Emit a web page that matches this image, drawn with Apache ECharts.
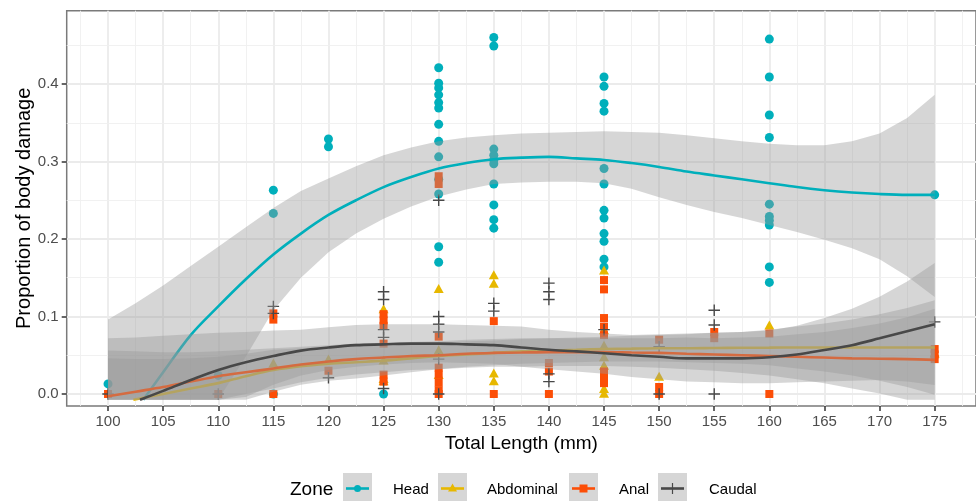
<!DOCTYPE html>
<html><head><meta charset="utf-8">
<script src="https://cdn.jsdelivr.net/npm/echarts@6/dist/echarts.min.js"></script>
<style>html,body{margin:0;padding:0;background:#fff}#c{width:976px;height:501px}</style>
</head><body><div id="c"></div>
<script>
// ---------- tick labels ----------
const xTicks = [100,105,110,115,120,125,130,135,140,145,150,155,160,165,170,175];
const xMinor = [97.5,102.5,107.5,112.5,117.5,122.5,127.5,132.5,137.5,142.5,147.5,152.5,157.5,162.5,167.5,172.5,177.5];
const yTicks = [0,0.1,0.2,0.3,0.4];
const yMinor = [0.05,0.15,0.25,0.35,0.45];
const zones = ['Head','Abdominal','Anal','Caudal'];

// ---------- observed points [length, proportion] ----------
const headPts = [[100,0.013],[110,0.024],[115,0.263],[115,0.233],[115,0.0],[120,0.329],[120,0.319],[125,0.0],
 [130,0.421],[130,0.401],[130,0.395],[130,0.386],[130,0.376],[130,0.369],[130,0.348],[130,0.326],[130,0.306],[130,0.277],[130,0.258],[130,0.190],[130,0.170],
 [135,0.460],[135,0.449],[135,0.316],[135,0.308],[135,0.302],[135,0.297],[135,0.271],[135,0.244],[135,0.225],[135,0.214],
 [145,0.409],[145,0.397],[145,0.375],[145,0.365],[145,0.291],[145,0.271],[145,0.237],[145,0.227],[145,0.207],[145,0.197],[145,0.174],[145,0.164],
 [160,0.458],[160,0.409],[160,0.360],[160,0.331],[160,0.245],[160,0.229],[160,0.224],[160,0.218],[160,0.164],[160,0.144],
 [175,0.257]];
const abdPts = [[115,0.040],[120,0.045],[125,0.110],[125,0.044],[125,0.020],[125,0.017],[130,0.136],[130,0.057],[130,0.025],
 [135,0.154],[135,0.143],[135,0.027],[135,0.017],[145,0.160],[145,0.083],[145,0.063],[145,0.048],[145,0.037],[145,0.007],[145,0.001],
 [150,0.023],[160,0.089],[175,0.053]];
const analPts = [[100,0.0],[110,0.0],[115,0.104],[115,0.096],[115,0.0],[120,0.030],
 [125,0.103],[125,0.095],[125,0.088],[125,0.065],[125,0.025],[125,0.016],
 [130,0.281],[130,0.271],[130,0.074],[130,0.034],[130,0.025],[130,0.015],[130,0.005],[130,0.0],
 [135,0.094],[135,0.0],[140,0.040],[140,0.029],[140,0.0],
 [145,0.147],[145,0.135],[145,0.098],[145,0.087],[145,0.076],[145,0.029],[145,0.020],[145,0.014],
 [150,0.070],[150,0.009],[150,0.0],[155,0.080],[155,0.072],[160,0.078],[160,0.0],[175,0.058],[175,0.051],[175,0.045]];
const caudPts = [[100,0.0],[110,0.0],[115,0.113],[115,0.104],[120,0.021],
 [125,0.132],[125,0.122],[125,0.083],[125,0.073],[125,0.007],
 [130,0.250],[130,0.100],[130,0.090],[130,0.080],[130,0.045],[130,0.0],
 [135,0.117],[135,0.107],[140,0.143],[140,0.132],[140,0.122],[140,0.026],[140,0.016],
 [145,0.083],[150,0.061],[150,0.0],[155,0.108],[155,0.089],[155,0.0],[175,0.093]];

// ---------- smoothed fits ----------
const fitX = [100,102.5,105,107.5,110,112.5,115,117.5,120,122.5,125,127.5,130,132.5,135,137.5,140,142.5,145,147.5,150,152.5,155,157.5,160,162.5,165,167.5,170,172.5,175];
const headFitX = [103.2,105,107.5,110,112.5,115,117.5,120,122.5,125,127.5,130,132.5,135,137.5,140,142.5,145,147.5,150,152.5,155,157.5,160,162.5,165,167.5,170,172.5,175];
const headFit = [-0.0075,0.028,0.076,0.113,0.148,0.180,0.207,0.231,0.250,0.267,0.280,0.291,0.298,0.303,0.305,0.306,0.304,0.302,0.298,0.293,0.287,0.282,0.277,0.272,0.267,0.263,0.260,0.258,0.257,0.257];
const headHi = [0.096,0.117,0.140,0.165,0.190,0.215,0.240,0.262,0.278,0.294,0.308,0.318,0.326,0.331,0.334,0.336,0.337,0.338,0.339,0.338,0.337,0.334,0.330,0.326,0.323,0.321,0.321,0.326,0.336,0.356,0.386];
const headLo = [-0.0075,-0.0075,-0.0075,-0.0075,-0.0075,0.048,0.108,0.150,0.183,0.207,0.226,0.242,0.255,0.264,0.271,0.273,0.274,0.274,0.272,0.265,0.254,0.244,0.235,0.227,0.218,0.209,0.199,0.188,0.174,0.152,0.125];

const abdFitX = [102.3,105,107.5,110,112.5,115,117.5,120,122.5,125,127.5,130,132.5,135,137.5,140,142.5,145,147.5,150,152.5,155,157.5,160,162.5,165,167.5,170,172.5,175];
const abdFit = [-0.0075,0.000,0.007,0.014,0.023,0.031,0.036,0.039,0.041,0.043,0.046,0.049,0.051,0.053,0.055,0.056,0.057,0.058,0.0585,0.059,0.059,0.0594,0.0596,0.0598,0.060,0.060,0.060,0.060,0.060,0.060];
const abdHi = [0.046,0.045,0.045,0.046,0.048,0.052,0.057,0.059,0.061,0.062,0.062,0.064,0.066,0.068,0.069,0.071,0.072,0.073,0.074,0.075,0.076,0.077,0.079,0.080,0.083,0.087,0.091,0.096,0.103,0.111,0.121];
const abdLo = [-0.0075,-0.0075,-0.0075,-0.0075,-0.0075,-0.0075,0.003,0.012,0.017,0.020,0.024,0.028,0.032,0.035,0.037,0.039,0.040,0.041,0.042,0.042,0.042,0.041,0.040,0.039,0.037,0.033,0.029,0.024,0.017,0.009,-0.001];

const analFit = [-0.003,0.003,0.009,0.016,0.023,0.028,0.033,0.038,0.042,0.045,0.047,0.049,0.050,0.052,0.053,0.0535,0.054,0.054,0.054,0.0535,0.053,0.052,0.051,0.050,0.049,0.048,0.047,0.046,0.0455,0.045,0.044];
const analHi = [0.056,0.055,0.054,0.054,0.055,0.057,0.059,0.061,0.063,0.065,0.066,0.067,0.068,0.070,0.071,0.072,0.072,0.072,0.072,0.072,0.072,0.073,0.072,0.073,0.074,0.077,0.080,0.085,0.091,0.099,0.110];
const analLo = [-0.0075,-0.0075,-0.0075,-0.0075,-0.0075,0.000,0.007,0.015,0.021,0.025,0.028,0.031,0.032,0.034,0.035,0.035,0.036,0.036,0.036,0.035,0.034,0.032,0.030,0.027,0.024,0.019,0.014,0.007,0.0005,-0.0075,-0.0075];

const caudFitX = [102.9,105,107.5,110,112.5,115,117.5,120,122.5,125,127.5,130,132.5,135,137.5,140,142.5,145,147.5,150,152.5,155,157.5,160,162.5,165,167.5,170,172.5,175];
const caudFit = [-0.0075,0.004,0.018,0.031,0.041,0.049,0.056,0.060,0.063,0.064,0.065,0.065,0.064,0.063,0.060,0.057,0.055,0.0525,0.050,0.048,0.046,0.046,0.046,0.0474,0.051,0.0568,0.063,0.0718,0.081,0.090];
const caudHi = [0.072,0.073,0.075,0.077,0.079,0.080,0.082,0.083,0.086,0.089,0.090,0.090,0.090,0.089,0.088,0.087,0.083,0.080,0.078,0.076,0.077,0.078,0.079,0.080,0.082,0.088,0.098,0.110,0.1255,0.145,0.169];
const caudLo = [-0.0075,-0.0075,-0.0075,-0.0075,-0.0075,-0.004,0.012,0.024,0.031,0.035,0.038,0.040,0.041,0.040,0.039,0.035,0.032,0.029,0.026,0.022,0.019,0.016,0.015,0.014,0.014,0.015,0.016,0.017,0.018,0.016,0.0116];

// ---------- styling ----------
const FONT = 'Liberation Sans, Arial, sans-serif';
const colors = {Head:'#00AFBB', Abdominal:'#E7B800', Anal:'#FC4E07', Caudal:'#484848'};
const RIBBON = 'rgba(153,153,153,0.4)';
const PLUS = 'path://M4.4,0H5.6V4.4H10V5.6H5.6V10H4.4V5.6H0V4.4H4.4Z';

const zip = (xs, ys) => xs.map((x, i) => [x, ys[i]]);

function ribbon(xs, lo, hi, z) {
  return {
    type: 'custom', silent: true, z: z, data: [[xs[0], lo[0]]],
    renderItem: function (p, api) {
      const pts = [];
      for (let i = 0; i < xs.length; i++) pts.push(api.coord([xs[i], hi[i]]));
      for (let i = xs.length - 1; i >= 0; i--) pts.push(api.coord([xs[i], lo[i]]));
      return {type: 'polygon', shape: {points: pts}, style: {fill: RIBBON}};
    }
  };
}
function fitLine(xs, ys, color, z) {
  return {type: 'line', silent: true, z: z, data: zip(xs, ys), showSymbol: false, symbol: 'none',
    smooth: 0.35, lineStyle: {color: color, width: 2.6}, clip: true};
}
function pts(data, symbol, size, color) {
  return {type: 'scatter', silent: true, z: 2, data: data, symbol: symbol, symbolSize: size,
    itemStyle: {color: color, opacity: 1}};
}

const gridLines = [];
xTicks.forEach(v => gridLines.push({xAxis: v, lineStyle: {color: '#EBEBEB', width: 1.8, type: 'solid'}}));
xMinor.forEach(v => gridLines.push({xAxis: v, lineStyle: {color: '#EFEFEF', width: 0.9, type: 'solid'}}));
yTicks.forEach(v => gridLines.push({yAxis: v, lineStyle: {color: '#EBEBEB', width: 1.8, type: 'solid'}}));
yMinor.forEach(v => gridLines.push({yAxis: v, lineStyle: {color: '#EFEFEF', width: 0.9, type: 'solid'}}));

// ---------- legend (graphic) ----------
const keyX = [343, 438, 569, 658];
const labX = [393, 487, 619, 709];
const legend = [{type: 'text', x: 290, y: 490, style: {text: 'Zone', fontSize: 19, fontFamily: FONT, fill: '#000', verticalAlign: 'middle'}}];
zones.forEach((z, i) => {
  const kx = keyX[i], cy = 488.5, cx = kx + 14.5, col = colors[z];
  legend.push({type: 'rect', shape: {x: kx, y: 473, width: 29, height: 29}, style: {fill: '#D6D6D6'}});
  legend.push({type: 'line', shape: {x1: kx + 3, y1: cy, x2: kx + 26, y2: cy}, style: {stroke: col, lineWidth: 2.6}});
  if (z === 'Head') legend.push({type: 'circle', shape: {cx: cx, cy: cy, r: 3.5}, style: {fill: col}});
  if (z === 'Abdominal') legend.push({type: 'polygon', shape: {points: [[cx, cy - 5], [cx + 4.5, cy + 3], [cx - 4.5, cy + 3]]}, style: {fill: col}});
  if (z === 'Anal') legend.push({type: 'rect', shape: {x: cx - 4, y: cy - 4, width: 8, height: 8}, style: {fill: col}});
  if (z === 'Caudal') legend.push({type: 'line', shape: {x1: cx, y1: cy - 5.5, x2: cx, y2: cy + 5.5}, style: {stroke: col, lineWidth: 1.2}});
  legend.push({type: 'text', x: labX[i], y: 490, style: {text: z, fontSize: 15, fontFamily: FONT, fill: '#000', verticalAlign: 'middle'}});
});

const chart = echarts.init(document.getElementById('c'), null, {renderer: 'canvas'});
chart.setOption({
  animation: false,
  backgroundColor: '#fff',
  grid: {left: 66.7, top: 10.7, width: 912.5, height: 395.3, show: true, borderColor: '#7a7a7a', borderWidth: 1.5, backgroundColor: 'transparent'},
  xAxis: {
    type: 'value', min: 96.25, max: 178.75, splitNumber: 16,
    name: 'Total Length (mm)', nameLocation: 'middle', nameGap: 26,
    nameTextStyle: {fontSize: 19, color: '#000', fontFamily: FONT},
    axisLine: {show: false, onZero: false},
    axisTick: {show: true, length: 5, customValues: xTicks, lineStyle: {color: '#333', width: 1.5}},
    axisLabel: {customValues: xTicks, margin: 8, fontSize: 15, color: '#4D4D4D', fontFamily: FONT,
      formatter: v => (Math.abs(v % 5) < 1e-9 ? String(v) : '')},
    splitLine: {show: false}, minorSplitLine: {show: false}
  },
  yAxis: {
    type: 'value', min: -0.0155, max: 0.4946, splitNumber: 5,
    name: 'Proportion of body damage', nameLocation: 'middle', nameGap: 32, nameRotate: 90,
    nameMoveOverlap: false,
    nameTextStyle: {fontSize: 20, color: '#000', fontFamily: FONT},
    axisLine: {show: false, onZero: false},
    axisTick: {show: true, length: 5, customValues: yTicks, lineStyle: {color: '#333', width: 1.5}},
    axisLabel: {customValues: yTicks, margin: 8, fontSize: 15, color: '#4D4D4D', fontFamily: FONT,
      formatter: v => (Math.abs(Math.round(v * 10) - v * 10) < 1e-6 ? v.toFixed(1) : '')},
    splitLine: {show: false}
  },
  graphic: legend,
  series: [
    {type: 'line', data: [], silent: true, z: 0,
      markLine: {silent: true, z: 0, symbol: ['none', 'none'], animation: false, label: {show: false}, data: gridLines}},
    pts(headPts, 'circle', 9, colors.Head),
    pts(abdPts, 'triangle', [10, 9], colors.Abdominal),
    pts(analPts, 'rect', [8, 8], colors.Anal),
    pts(caudPts, PLUS, 11.5, colors.Caudal),
    ribbon(fitX, headLo, headHi, 3),
    fitLine(headFitX, headFit, colors.Head, 4),
    ribbon(fitX, abdLo, abdHi, 5),
    fitLine(abdFitX, abdFit, colors.Abdominal, 6),
    ribbon(fitX, analLo, analHi, 7),
    fitLine(fitX, analFit, colors.Anal, 8),
    ribbon(fitX, caudLo, caudHi, 9),
    fitLine(caudFitX, caudFit, colors.Caudal, 10)
  ]
});
</script>
</body></html>
